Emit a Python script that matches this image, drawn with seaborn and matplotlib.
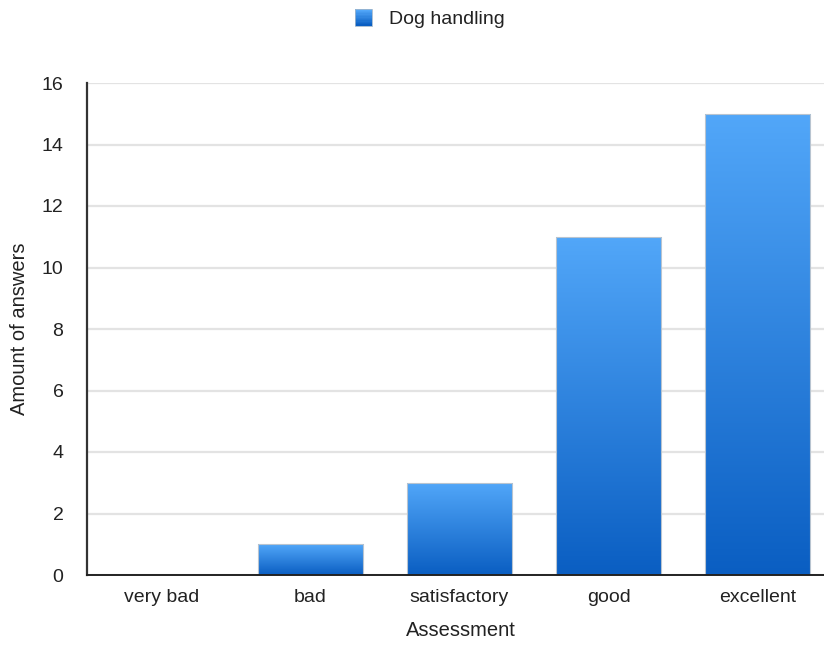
import numpy as np
import pandas as pd
import matplotlib
matplotlib.use("Agg")
import matplotlib.pyplot as plt
import seaborn as sns
from matplotlib.colors import LinearSegmentedColormap
from matplotlib.patches import Rectangle
from matplotlib.legend_handler import HandlerBase

categories = ["very bad", "bad", "satisfactory", "good", "excellent"]
answers = [0, 1, 3, 11, 15]
series_name = "Dog handling"
y_ticks = [0, 2, 4, 6, 8, 10, 12, 14, 16]

TOP_BLUE = "#52a7f9"
BOTTOM_BLUE = "#0a5ec2"
grad_cmap = LinearSegmentedColormap.from_list("bar_grad", [BOTTOM_BLUE, TOP_BLUE])

sns.set_theme(style="white")
plt.rcParams["font.family"] = ["Liberation Sans", "DejaVu Sans"]

df = pd.DataFrame({"Assessment": categories, "Answers": answers})

fig = plt.figure(figsize=(8.24, 6.45), dpi=100)
ax = fig.add_axes([87 / 824, 70 / 645, 1 - 87 / 824, 492 / 645])

sns.barplot(data=df, x="Assessment", y="Answers", ax=ax, width=0.71,
            color=TOP_BLUE, edgecolor="none", zorder=3)

# Vertical gradient fill for each bar, clipped to the bar rectangle
gradient = np.linspace(0, 1, 256).reshape(-1, 1)
for patch in ax.patches:
    x0, y0 = patch.get_x(), patch.get_y()
    w, h = patch.get_width(), patch.get_height()
    if h <= 0:
        continue
    patch.set_facecolor("none")
    im = ax.imshow(gradient, cmap=grad_cmap, origin="lower", aspect="auto",
                   extent=(x0, x0 + w, y0, y0 + h), zorder=3, interpolation="bilinear")
    im.set_clip_path(patch)
    ax.add_patch(Rectangle((x0, y0), w, h, fill=False, edgecolor="#b8c4d0",
                           linewidth=0.8, zorder=4))

ax.set_xlim(-0.5, -0.5 + 737 / 149)
ax.set_ylim(0, 16)
ax.set_yticks(y_ticks)
ax.set_yticklabels([str(t) for t in y_ticks])
ax.yaxis.grid(True, color="#e3e3e3", linewidth=1.6, zorder=0)
ax.xaxis.grid(False)
ax.set_axisbelow(True)

for side in ["top", "right"]:
    ax.spines[side].set_visible(False)
ax.spines["left"].set_color("#333333")
ax.spines["left"].set_linewidth(1.6)
ax.spines["bottom"].set_color("#222222")
ax.spines["bottom"].set_linewidth(1.4)
ax.spines["bottom"].set_zorder(5)

ax.tick_params(axis="both", length=0, labelsize=14, colors="#222222")
ax.tick_params(axis="y", pad=17)
ax.tick_params(axis="x", pad=10)

ax.set_xlabel("Assessment", fontsize=14.5, color="#222222")
ax.set_ylabel("Amount of answers", fontsize=14.5, color="#222222")
ax.xaxis.set_label_coords((461 - 87) / 737, -(631 - 575) / 492)
ax.xaxis.label.set_va("center")
ax.yaxis.set_label_coords(-(87 - 20) / 737, (575 - 329) / 492)
ax.yaxis.label.set_va("center")


class GradientSquare(HandlerBase):
    """Legend key drawn as a small square with the same vertical gradient as the bars."""

    def create_artists(self, legend, orig_handle, xdescent, ydescent,
                       width, height, fontsize, trans):
        size = min(width, height) * 1.05
        x0 = -xdescent + (width - size) / 2
        y0 = -ydescent + (height - size) / 2
        strips = 12
        artists = []
        for i in range(strips):
            c = grad_cmap(i / (strips - 1))
            artists.append(Rectangle((x0, y0 + i * size / strips), size, size / strips + 0.3,
                                     facecolor=c, edgecolor="none", transform=trans))
        artists.append(Rectangle((x0, y0), size, size, fill=False,
                                 edgecolor="#9fb6cc", linewidth=0.6, transform=trans))
        return artists


handle = Rectangle((0, 0), 1, 1)
fig.legend([handle], [series_name], handler_map={Rectangle: GradientSquare()},
           loc="center", bbox_to_anchor=(430 / 824, 1 - 19 / 645), frameon=False,
           fontsize=14, handlelength=0.85, handleheight=0.85, handletextpad=0.9,
           labelcolor="#222222")

fig.savefig("out.png", dpi=100)
